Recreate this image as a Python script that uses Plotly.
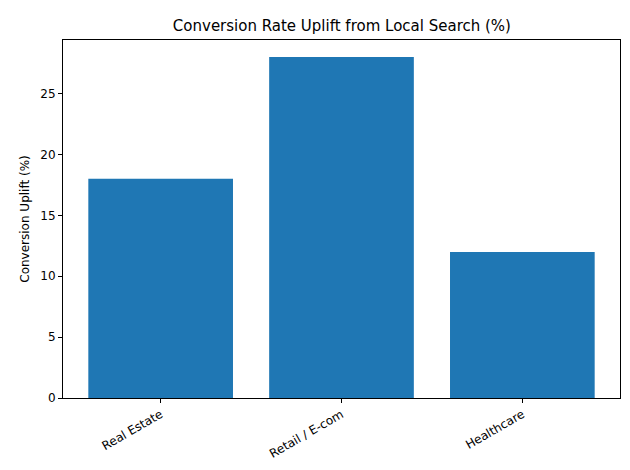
import plotly.graph_objects as go

categorias = ["Real Estate", "Retail / E-com", "Healthcare"]
uplift = [18, 28, 12]

fig = go.Figure()
fig.add_trace(go.Bar(x=categorias, y=uplift, marker_color="#1f77b4",
                     marker_line_width=0, width=0.8))

eje = dict(showline=True, linecolor="black", linewidth=1, mirror=True,
           ticks="outside", ticklen=4, tickcolor="black", showgrid=False,
           zeroline=False, automargin=False, tickfont=dict(size=12, color="black"))

fig.update_layout(
    width=630, height=470,
    paper_bgcolor="white", plot_bgcolor="white",
    font=dict(family="DejaVu Sans", color="black"),
    title=dict(text="Conversion Rate Uplift from Local Search (%)", x=0.53, xanchor="center",
               y=0.962, yanchor="middle", yref="container", automargin=False,
               font=dict(size=15)),
    margin=dict(l=55, r=18, t=32, b=80, autoexpand=False),
    xaxis=dict(eje, range=[-0.54, 2.54], tickangle=-30),
    yaxis=dict(eje, range=[0, 29.4], dtick=5,
               title=dict(text="Conversion Uplift (%)", font=dict(size=12), standoff=8)),
    bargap=0.2, showlegend=False,
)

fig.write_html("out.html")
